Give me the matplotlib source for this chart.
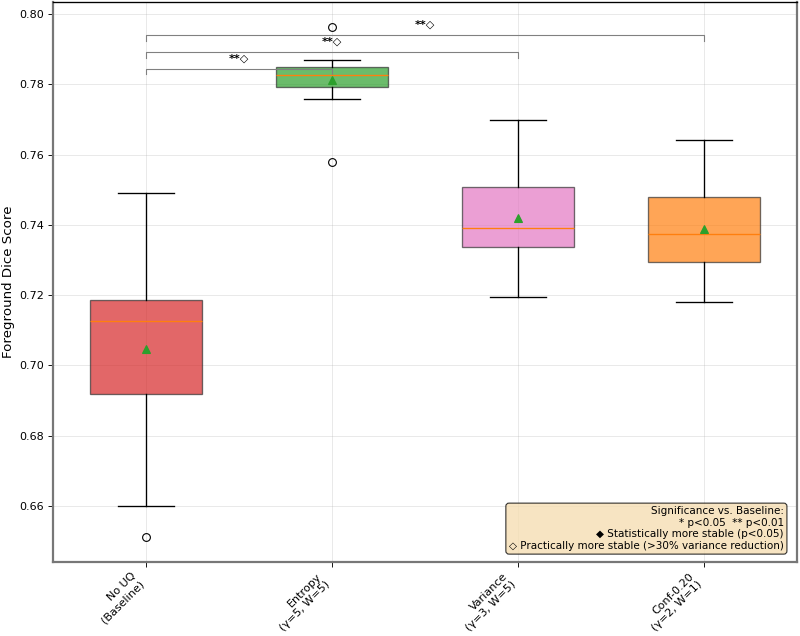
import matplotlib
matplotlib.use("Agg")
import matplotlib.pyplot as plt

# ---- data ----
labels = ["No UQ\n(Baseline)", "Entropy\n(γ=5, W=5)", "Variance\n(γ=3, W=5)", "Conf-0.20\n(γ=2, W=1)"]
medians = [0.7127, 0.7827, 0.7391, 0.7373]
q1s = [0.6918, 0.7791, 0.7338, 0.7295]
q3s = [0.7186, 0.7849, 0.7508, 0.7478]
whislos = [0.6599, 0.7759, 0.7195, 0.7180]
whishis = [0.7492, 0.7870, 0.7698, 0.7641]
means = [0.7047, 0.7812, 0.7420, 0.7388]
fliers = [[0.6512], [0.7962, 0.7580], [], []]
colors = ["#d62728", "#2ca02c", "#e377c2", "#ff7f0e"]
sig_pairs = [(1, 2), (1, 3), (1, 4)]
sig_labels = ["**◇", "**◇", "**◇"]
sig_heights = [0.7843, 0.7891, 0.7939]
legend_text = ("Significance vs. Baseline:\n* p<0.05  ** p<0.01\n"
               "◆ Statistically more stable (p<0.05)\n"
               "◇ Practically more stable (>30% variance reduction)")

fig = plt.figure(figsize=(10, 7.95), dpi=80)
ax = fig.add_axes([53/800, (636-562)/636, 744/800, 560/636])

stats = []
for i in range(len(labels)):
    stats.append(dict(med=medians[i], q1=q1s[i], q3=q3s[i], whislo=whislos[i],
                      whishi=whishis[i], mean=means[i], fliers=fliers[i], label=labels[i]))

bp = ax.bxp(stats, positions=range(1, len(labels)+1), widths=0.6, patch_artist=True,
            showmeans=True, showfliers=True,
            boxprops=dict(edgecolor="#333333", linewidth=1.2),
            medianprops=dict(color="#ff7f0e", linewidth=1.2),
            whiskerprops=dict(color="black", linewidth=1.2),
            capprops=dict(color="black", linewidth=1.2),
            meanprops=dict(marker="^", markerfacecolor="#2ca02c", markeredgecolor="#2ca02c", markersize=7),
            flierprops=dict(marker="o", markerfacecolor="none", markeredgecolor="black", markersize=7))
for patch, c in zip(bp["boxes"], colors):
    patch.set_facecolor(c)
    patch.set_alpha(0.7)

ax.set_xlim(0.5, 4.5)
ax.set_ylim(0.6441, 0.8034)
ax.set_yticks([0.66, 0.68, 0.70, 0.72, 0.74, 0.76, 0.78, 0.80])
ax.set_xticks(range(1, len(labels)+1))
ax.set_xticklabels(labels, rotation=45, ha="right", fontsize=10)
ax.tick_params(axis="both", labelsize=10, length=4.5)
ax.set_ylabel("Foreground Dice Score", fontsize=12)
ax.grid(True, alpha=0.3)
ax.set_axisbelow(True)

for s in ["left", "right", "bottom"]:
    ax.spines[s].set_color("#777777")
    ax.spines[s].set_linewidth(2.0)
ax.spines["top"].set_color("black")
ax.spines["top"].set_linewidth(1.2)

h = 0.0015
for (a, b), y, t in zip(sig_pairs, sig_heights, sig_labels):
    ax.plot([a, a, b, b], [y - h, y, y, y - h], color="gray", linewidth=1.0)
    ax.text((a + b) / 2, y + 0.0016, t, ha="center", va="bottom", fontsize=10, fontweight="bold")

ax.text(0.9823, 0.0196, legend_text, transform=ax.transAxes, ha="right", va="bottom",
        multialignment="right", fontsize=9.3,
        bbox=dict(boxstyle="round", facecolor="wheat", alpha=0.8))

fig.savefig("out.png", dpi=80)
